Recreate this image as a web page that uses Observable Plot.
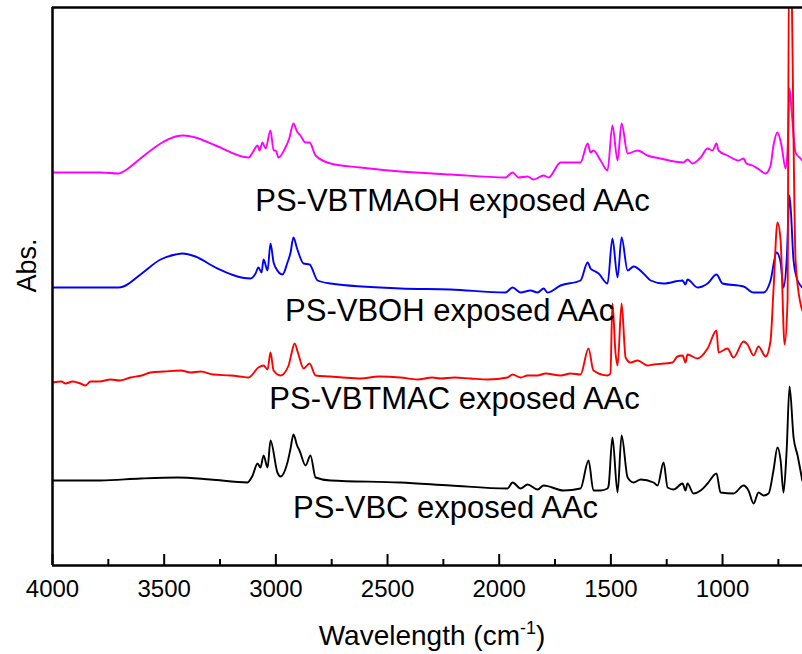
<!DOCTYPE html>
<html>
<head>
<meta charset="utf-8">
<script src="https://cdn.jsdelivr.net/npm/d3@7"></script>
<script src="https://cdn.jsdelivr.net/npm/@observablehq/plot@0.6"></script>
<style>
  html, body { margin: 0; padding: 0; background: #fff; }
  #chart svg { display: block; }
</style>
</head>
<body>
<div id="chart"></div>
<script>
const FONT = "'Liberation Sans', Arial, Helvetica, sans-serif";

// FTIR spectra, wavenumber (cm-1) and stacked absorbance (arbitrary offset units)
const wnVBTMAOH = [4000,3785,3704,3682,3606,3516,3449,3413,3360,3270,3122,3104,3082,3073,3060,3046,3024,3010,3001,2988,2957,2940,2921,2905,2890,2867,2849,2822,2755,2621,2442,2218,1972,1940,1913,1873,1846,1801,1779,1725,1636,1604,1591,1578,1546,1515,1493,1470,1452,1425,1380,1336,1278,1175,1157,1134,1098,1067,1045,1027,1018,978,928,906,893,866,843,807,785,772,754,736,718,709,700,691,673,651,643];
const absVBTMAOH = [3.93,3.93,3.92,3.94,4.07,4.22,4.29,4.30,4.28,4.20,4.08,4.13,4.20,4.15,4.23,4.17,4.35,4.15,4.15,4.08,4.18,4.27,4.42,4.34,4.30,4.23,4.23,4.10,4.02,3.98,3.94,3.91,3.88,3.93,3.88,3.89,3.86,3.90,3.88,4.03,4.03,4.22,4.13,4.15,4.05,3.95,4.40,4.05,4.42,4.12,4.15,4.10,4.07,4.03,4.06,4.02,4.08,4.17,4.15,4.22,4.15,4.10,4.05,4.07,4.02,4.00,3.97,3.92,4.00,4.20,4.33,4.20,3.97,4.15,4.77,4.55,4.13,4.07,4.05];

const wnVBOH = [4000,3704,3682,3606,3516,3449,3418,3360,3270,3113,3091,3078,3064,3055,3037,3024,3010,3001,2970,2948,2935,2921,2905,2876,2849,2813,2755,2442,2218,1972,1940,1904,1860,1828,1801,1784,1725,1636,1604,1591,1578,1555,1515,1493,1470,1452,1425,1398,1354,1322,1264,1179,1166,1157,1112,1067,1027,1000,906,861,816,785,758,740,727,713,700,682,664,651,643];
const absVBOH = [2.78,2.78,2.79,2.91,3.06,3.11,3.12,3.09,2.98,2.87,2.92,2.98,2.93,3.06,2.95,3.22,3.03,2.98,2.91,3.03,3.12,3.28,3.17,3.02,3.01,2.85,2.82,2.77,2.76,2.73,2.78,2.73,2.75,2.73,2.77,2.73,2.80,2.85,3.03,2.97,2.95,2.92,2.82,3.27,2.88,3.28,2.95,2.99,2.92,2.85,2.82,2.85,2.81,2.86,2.78,2.82,2.91,2.82,2.79,2.73,2.73,2.85,3.13,3.03,2.78,3.05,3.70,3.05,2.85,2.80,2.78];

const wnVBTMAC = [4000,3960,3942,3910,3875,3852,3830,3790,3740,3700,3651,3600,3561,3500,3427,3380,3337,3280,3203,3160,3122,3078,3055,3037,3024,3010,2979,2943,2930,2916,2900,2876,2849,2822,2755,2700,2620,2540,2442,2366,2300,2263,2200,2128,2050,1963,1940,1904,1873,1828,1793,1725,1680,1636,1600,1578,1515,1502,1493,1479,1470,1452,1434,1412,1380,1336,1309,1224,1202,1179,1166,1157,1112,1067,1027,1018,978,951,906,888,861,839,807,785,772,754,740,722,709,702,696,673,651,643];
const absVBTMAC = [1.83,1.84,1.82,1.84,1.82,1.80,1.84,1.84,1.86,1.85,1.88,1.90,1.93,1.94,1.95,1.93,1.94,1.91,1.90,1.89,1.88,1.98,2.00,1.96,2.13,1.95,1.90,2.00,2.12,2.22,2.12,1.97,2.02,1.90,1.89,1.88,1.87,1.89,1.88,1.86,1.88,1.87,1.88,1.87,1.86,1.88,1.91,1.88,1.90,1.90,1.92,1.90,1.92,1.91,2.17,1.95,1.90,1.92,2.62,2.12,2.00,2.62,2.08,2.03,2.05,2.00,2.01,2.03,2.09,2.10,2.03,2.11,2.07,2.17,2.35,2.13,2.17,2.08,2.24,2.21,2.10,2.19,2.09,2.25,2.75,3.43,3.25,2.21,2.65,6.20,6.20,3.05,2.62,2.55];

const wnVBC = [4000,3785,3606,3440,3293,3127,3104,3082,3069,3055,3037,3024,2993,2979,2948,2935,2921,2905,2894,2867,2845,2822,2755,2442,2218,1963,1940,1904,1873,1828,1801,1712,1636,1600,1578,1546,1515,1510,1493,1470,1452,1425,1398,1367,1309,1291,1264,1246,1219,1179,1166,1157,1130,1098,1067,1027,1009,951,906,884,861,839,816,794,772,754,740,727,713,700,682,664,643];
const absVBC = [0.85,0.85,0.87,0.88,0.86,0.83,0.90,1.02,0.98,1.10,0.98,1.25,0.93,0.89,1.03,1.16,1.31,1.20,1.15,1.00,1.10,0.88,0.85,0.83,0.80,0.77,0.83,0.77,0.81,0.76,0.80,0.75,0.77,1.05,0.75,0.75,0.77,0.80,1.28,0.73,1.30,0.88,0.83,0.86,0.83,0.80,1.03,0.78,0.76,0.82,0.75,0.82,0.72,0.75,0.82,0.92,0.73,0.72,0.80,0.75,0.62,0.73,0.70,0.72,0.95,1.18,1.05,0.73,1.15,1.79,1.28,1.10,0.85];

// Sample names, colours and label anchor points (wavenumber, absorbance at text baseline)
const sampleNames = ["PS-VBTMAOH exposed AAc", "PS-VBOH exposed AAc", "PS-VBTMAC exposed AAc", "PS-VBC exposed AAc"];
const sampleColors = ["#ff00ff", "#0000ff", "#ff0000", "#000000"];
const labelWn = [2209, 2222, 2200, 2240];
const labelAbs = [3.55, 2.45, 1.57, 0.48];

// Axis ticks
const majorTicks = [4000, 3500, 3000, 2500, 2000, 1500, 1000];
const minorTicks = [3750, 3250, 2750, 2250, 1750, 1250, 750];

const xDomain = [4000, 642];
const yMax = 5.58;

const spectra = [
  {wn: wnVBTMAOH, abs: absVBTMAOH},
  {wn: wnVBOH, abs: absVBOH},
  {wn: wnVBTMAC, abs: absVBTMAC},
  {wn: wnVBC, abs: absVBC}
].map((s, k) => ({
  color: sampleColors[k],
  points: s.wn.map((w, i) => ({wn: w, abs: s.abs[i]}))
}));

const labels = sampleNames.map((name, i) => ({name, wn: labelWn[i], abs: labelAbs[i]}));

const chart = Plot.plot({
  width: 802,
  height: 654,
  marginLeft: 52,
  marginRight: 0,
  marginTop: 7,
  marginBottom: 89,
  style: {fontFamily: FONT, background: "#fff", color: "#000"},
  x: {domain: xDomain},
  y: {domain: [0, yMax], axis: null},
  marks: [
    // spectra
    ...spectra.map(s => Plot.line(s.points, {
      x: "wn", y: "abs", stroke: s.color, strokeWidth: 1.9, curve: "monotone-x", clip: true
    })),
    // sample labels
    Plot.text(labels, {
      x: "wn", y: "abs", text: "name", fontSize: 31, fill: "#000",
      textAnchor: "middle", lineAnchor: "bottom"
    }),
    // frame: left, bottom and top
    Plot.ruleX([xDomain[0]], {stroke: "#000", strokeWidth: 2.5}),
    Plot.ruleY([0, yMax], {stroke: "#000", strokeWidth: 2.5}),
    // inward ticks on the bottom axis
    Plot.ruleX(majorTicks, {x: d => d, y1: 0, y2: 0, insetBottom: 11, stroke: "#000", strokeWidth: 2}),
    Plot.ruleX(minorTicks, {x: d => d, y1: 0, y2: 0, insetBottom: 6, stroke: "#000", strokeWidth: 2}),
    // tick labels
    Plot.axisX({
      ticks: majorTicks, tickSize: 0, tickPadding: 14, fontSize: 24,
      tickFormat: d => String(d), label: null
    }),
    // y axis title
    Plot.text(["Abs."], {
      frameAnchor: "left", text: d => d, rotate: -90, dx: -25, dy: -21,
      fontSize: 27, fill: "#000", textAnchor: "middle", lineAnchor: "middle"
    })
  ]
});

// x axis title with a superscript exponent
const xr = chart.scale("x").range;
const title = d3.select(chart).append("text")
  .attr("x", (xr[0] + xr[1]) / 2 + 5)
  .attr("y", 645)
  .attr("text-anchor", "middle")
  .attr("font-family", FONT)
  .attr("font-size", 28)
  .attr("fill", "#000");
title.append("tspan").text("Wavelength (cm");
title.append("tspan").attr("dy", -11).attr("font-size", 18).text("-1");
title.append("tspan").attr("dy", 11).text(")");

document.getElementById("chart").append(chart);
</script>
</body>
</html>
